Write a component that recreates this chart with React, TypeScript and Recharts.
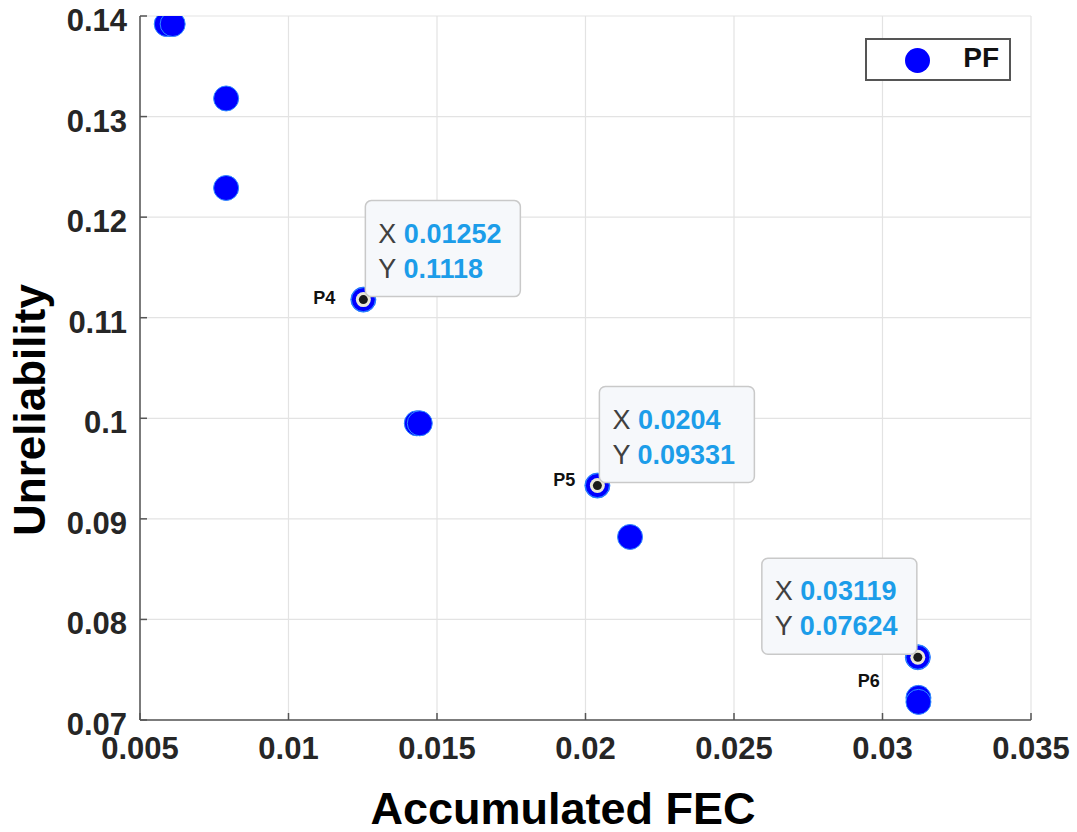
import React from 'react';
import {
  ScatterChart,
  Scatter,
  XAxis,
  YAxis,
  CartesianGrid,
  Legend,
} from 'recharts';

// PF points (Accumulated FEC vs Unreliability)
const fecValues = [0.0059, 0.0061, 0.0079, 0.0079, 0.01432, 0.01442, 0.0215, 0.03121, 0.03121];
const unrelValues = [0.1392, 0.1392, 0.1318, 0.1229, 0.0995, 0.0995, 0.0882, 0.0722, 0.0718];

// points with data tips
const tipNames = ['P4', 'P5', 'P6'];
const tipFec = [0.01252, 0.0204, 0.03119];
const tipUnrel = [0.1118, 0.09331, 0.07624];

const xTicks = [0.005, 0.01, 0.015, 0.02, 0.025, 0.03, 0.035];
const xTickLabels = ['0.005', '0.01', '0.015', '0.02', '0.025', '0.03', '0.035'];
const yTicks = [0.07, 0.08, 0.09, 0.1, 0.11, 0.12, 0.13, 0.14];
const yTickLabels = ['0.07', '0.08', '0.09', '0.1', '0.11', '0.12', '0.13', '0.14'];

const W = 1077;
const H = 832;
const margin = { top: 16, right: 46, bottom: 52, left: 60 };
const PLOT_RIGHT = W - margin.right;
const FONT = '"Liberation Sans", Arial, Helvetica, sans-serif';
const AXIS = '#555555';

const tipData = tipNames.map((name, i) => ({ name, x: tipFec[i], y: tipUnrel[i] }));
const pfData = [
  ...fecValues.map((x, i) => ({ x, y: unrelValues[i] })),
  ...tipData.map((d) => ({ x: d.x, y: d.y })),
];

const xLabel = (v: number) => xTickLabels[xTicks.indexOf(v)] ?? String(v);
const yLabel = (v: number) => yTickLabels[yTicks.indexOf(v)] ?? String(v);

const XTick = (props: any) => (
  <text x={props.x} y={props.y + 44} textAnchor="middle" fontFamily={FONT} fontWeight="bold" fontSize={31} fill="#262626">
    {xLabel(props.payload.value)}
  </text>
);

const YTick = (props: any) => (
  <text x={127} y={props.y + 15} textAnchor="end" fontFamily={FONT} fontWeight="bold" fontSize={31} fill="#262626">
    {yLabel(props.payload.value)}
  </text>
);

const NoTick = () => <g />;

const Dot = (props: any) => (
  <circle cx={props.cx} cy={props.cy} r={12.5} fill="#0000ff" stroke="#2f8cff" strokeWidth={1} />
);

const TipMarker = (props: any) => {
  const { cx, cy, payload } = props;
  const w = 155;
  const h = 96;
  const toLeft = cx + w > PLOT_RIGHT;
  const bx = toLeft ? cx - 1 - w : cx + 2;
  const by = cy - 3 - h;
  const lx = toLeft ? cx - 38 : payload.name === 'P5' ? cx - 22 : cx - 28;
  const ly = toLeft ? cy + 30 : payload.name === 'P5' ? cy : cy + 4;
  return (
    <g>
      <circle cx={cx} cy={cy} r={12} fill="#0000ff" stroke="#2f8cff" strokeWidth={1} />
      <circle cx={cx} cy={cy} r={7.5} fill="#ebe8d8" />
      <circle cx={cx} cy={cy} r={4.5} fill="#1a1a1a" />
      <text x={lx} y={ly} textAnchor="end" fontFamily={FONT} fontWeight="bold" fontSize={18} fill="#111">
        {payload.name}
      </text>
      <rect x={bx} y={by} width={w} height={h} rx={6} ry={6} fill="#f6f8fb" stroke="#c9c9c9" strokeWidth={1.5} />
      <text x={bx + 13} y={by + 42} fontFamily={FONT} fontSize={27}>
        <tspan fill="#404040">X </tspan>
        <tspan fill="#1c9de9" fontWeight="bold">{String(payload.x)}</tspan>
      </text>
      <text x={bx + 13} y={by + 77} fontFamily={FONT} fontSize={27}>
        <tspan fill="#404040">Y </tspan>
        <tspan fill="#1c9de9" fontWeight="bold">{String(payload.y)}</tspan>
      </text>
    </g>
  );
};

const LegendBox = (props: any) => {
  const items = (props.payload || []).filter((p: any) => p.value === 'PF');
  return (
    <div
      style={{
        width: 146,
        height: 43,
        boxSizing: 'border-box',
        border: `2px solid ${AXIS}`,
        background: '#fff',
        position: 'relative',
        fontFamily: FONT,
      }}
    >
      {items.map((it: any) => (
        <React.Fragment key={it.value}>
          <span
            style={{
              position: 'absolute',
              left: 38,
              top: 8,
              width: 25,
              height: 25,
              borderRadius: '50%',
              background: '#0000ff',
            }}
          />
          <span
            style={{
              position: 'absolute',
              right: 10,
              top: 2,
              fontSize: 28,
              fontWeight: 'bold',
              color: '#111',
            }}
          >
            {it.value}
          </span>
        </React.Fragment>
      ))}
    </div>
  );
};

export default function App() {
  return (
    <div style={{ position: 'absolute', left: 0, top: 0, width: W, height: H, background: '#fff' }}>
      <ScatterChart width={W} height={H} margin={margin}>
        <CartesianGrid stroke="#e3e3e3" strokeWidth={1.2} horizontalValues={yTicks} verticalValues={xTicks} />
        <XAxis
          dataKey="x"
          type="number"
          domain={[0.005, 0.035]}
          ticks={xTicks}
          interval={0}
          height={60}
          tick={XTick}
          tickSize={-7}
          stroke={AXIS}
          strokeWidth={1.5}
          allowDataOverflow
        />
        <XAxis
          xAxisId="top"
          orientation="top"
          dataKey="x"
          type="number"
          domain={[0.005, 0.035]}
          ticks={xTicks}
          interval={0}
          height={0}
          tick={NoTick}
          tickSize={-7}
          stroke={AXIS}
          strokeWidth={1.5}
          allowDataOverflow
        />
        <YAxis
          dataKey="y"
          type="number"
          domain={[0.07, 0.14]}
          ticks={yTicks}
          interval={0}
          width={80}
          tick={YTick}
          tickSize={-7}
          stroke={AXIS}
          strokeWidth={1.5}
          allowDataOverflow
        />
        <YAxis
          yAxisId="right"
          orientation="right"
          dataKey="y"
          type="number"
          domain={[0.07, 0.14]}
          ticks={yTicks}
          interval={0}
          width={0}
          tick={NoTick}
          tickSize={-7}
          stroke={AXIS}
          strokeWidth={1.5}
          allowDataOverflow
        />
        <Legend
          layout="horizontal"
          verticalAlign="middle"
          align="center"
          content={LegendBox}
          wrapperStyle={{ left: 865, top: 38, width: 146, height: 43 }}
        />
        <Scatter name="PF" data={pfData} fill="#0000ff" shape={Dot} isAnimationActive={false} />
        <Scatter name="tips" data={tipData} fill="#0000ff" shape={TipMarker} legendType="none" isAnimationActive={false} />
      </ScatterChart>
      <div
        style={{
          position: 'absolute',
          left: 563,
          top: 783,
          transform: 'translateX(-50%)',
          whiteSpace: 'nowrap',
          fontFamily: FONT,
          fontWeight: 'bold',
          fontSize: 45,
          color: '#000',
          lineHeight: '52px',
        }}
      >
        Accumulated FEC
      </div>
      <div
        style={{
          position: 'absolute',
          left: 30,
          top: 410,
          transform: 'translate(-50%, -50%) rotate(-90deg)',
          fontFamily: FONT,
          fontWeight: 'bold',
          fontSize: 44,
          color: '#000',
          whiteSpace: 'nowrap',
          lineHeight: '50px',
        }}
      >
        Unreliability
      </div>
    </div>
  );
}
